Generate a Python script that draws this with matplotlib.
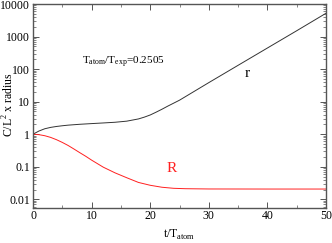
"""Expansion of the condensate: r and R versus time (log scale)."""

import matplotlib
matplotlib.use("Agg")
import matplotlib.pyplot as plt
from matplotlib.ticker import MultipleLocator, LogLocator, FixedLocator

plt.rcParams["font.family"] = ["Liberation Serif", "DejaVu Serif"]
plt.rcParams["mathtext.fontset"] = "custom"
plt.rcParams["mathtext.rm"] = "Liberation Serif"

# values
t_r = [0, 1, 2, 3, 4, 5, 6, 8, 10, 12, 14, 16, 18, 19, 20, 21, 22, 23, 24,
       25, 30, 35, 40, 45, 50]
r_vals = [1.0, 1.25, 1.47, 1.62, 1.73, 1.82, 1.9, 2.02, 2.12, 2.22, 2.33,
          2.52, 2.95, 3.35, 3.9, 4.75, 5.85, 7.3, 9.0, 11.1, 38.5, 131, 445,
          1510, 5200]

t_R = [0, 1, 2, 3, 4, 5, 6, 7, 8, 9, 10, 12, 14, 16, 18, 20, 22, 24,
       26, 30, 40, 50]
R_vals = [1.0, 0.97, 0.9, 0.8, 0.68, 0.56, 0.45, 0.35, 0.27, 0.21, 0.16,
          0.097, 0.065, 0.046, 0.033, 0.027, 0.0235, 0.0218, 0.0212,
          0.0208, 0.0207, 0.0207]

ratio_label = "0.2505"

fig = plt.figure(figsize=(3.32, 2.43), dpi=100)
ax = fig.add_axes([0.0994, 0.146, 0.8826, 0.8375])

ax.plot(t_r, r_vals, color="#333333", lw=0.7)
ax.plot(t_R, R_vals, color="#ff2020", lw=0.7)

ax.set_yscale("log")
ax.set_xlim(0, 50)
ax.set_ylim(0.0056, 10000)

ax.xaxis.set_major_locator(MultipleLocator(10))
ax.xaxis.set_minor_locator(MultipleLocator(5))
ax.yaxis.set_major_locator(FixedLocator([0.01, 0.1, 1, 10, 100, 1000, 10000]))
ax.yaxis.set_minor_locator(LogLocator(base=10, subs=range(2, 10), numticks=20))
ax.set_yticklabels(["0.01", "0.1", "1", "10", "100", "1000", "10000"])

ax.tick_params(which="both", direction="in", top=True, right=True,
               labelsize=8.5, pad=2, color="#555555")
ax.tick_params(which="major", length=4, width=0.7)
ax.tick_params(which="minor", length=2, width=0.5)
for sp in ax.spines.values():
    sp.set_color("#555555")
    sp.set_linewidth(1.0)

ax.set_xlabel(r"t/T$_{\rm atom}$", fontsize=8.5, labelpad=4)
fig.text(9 / 332, 1 - 105 / 243, r"C/L$^{2}$ x radius", fontsize=8.5,
         rotation=90, ha="center", va="center")

ax.text(8.3, 160, r"T$_{\rm atom}$/T$_{\rm exp}$=" + ratio_label,
        fontsize=8, ha="left", va="center")
ax.text(36.6, 74, "r", fontsize=11, ha="center", va="center")
ax.text(23.6, 0.09, "R", fontsize=11, color="#ff2020", ha="center",
        va="center")

fig.savefig("out.png", dpi=100)
